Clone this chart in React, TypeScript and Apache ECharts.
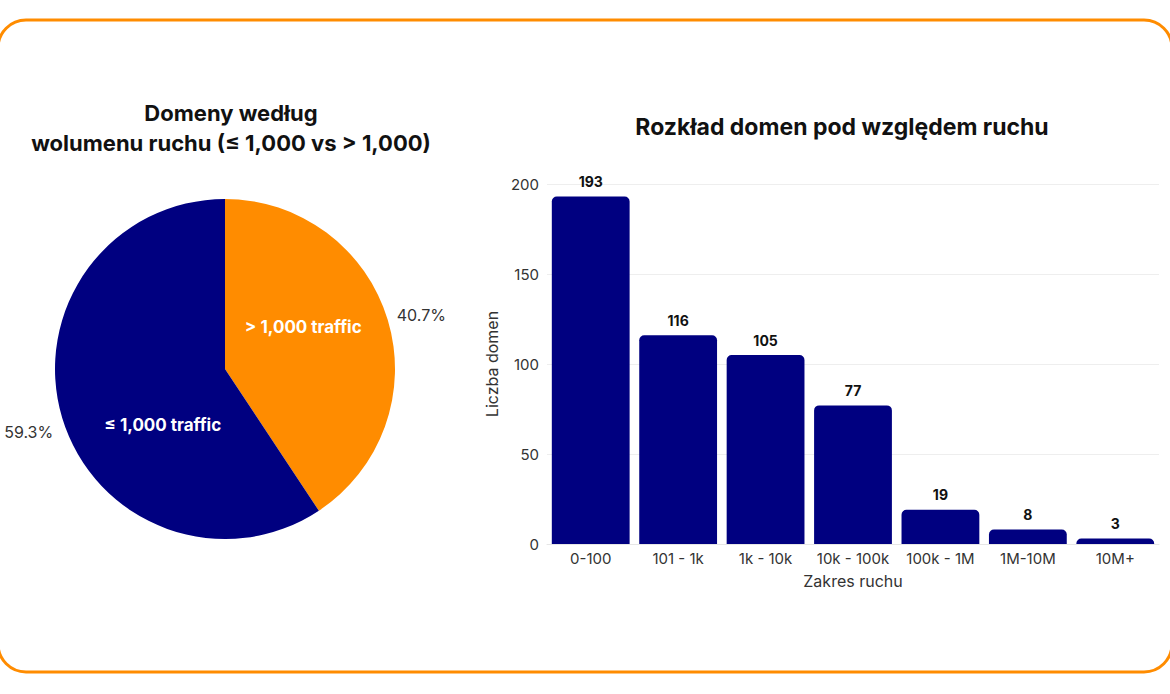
import { useEffect, useRef } from "react";
import * as echarts from "echarts";

// 左：依流量分組的網域佔比
const PIE_NAMES = ["> 1,000 traffic", "≤ 1,000 traffic"];
const PIE_VALUES = [212, 309];
const PIE_COLORS = ["#FF8C00", "#000080"];

// 右：流量區間分布
const RANGES = ["0-100", "101 - 1k", "1k - 10k", "10k - 100k", "100k - 1M", "1M-10M", "10M+"];
const DOMAIN_COUNTS = [193, 116, 105, 77, 19, 8, 3];

const NAVY = "#000080";
const ORANGE = "#FF8C00";
const FONT = "Inter, 'Noto Sans', sans-serif";

// 內部文字位置微調（plotly 風格）
const INSIDE_SHIFT = [
  { dx: -6, dy: -17 },
  { dx: 22, dy: 31 },
];
const OUTSIDE_SHIFT = [
  { dx: 4, dy: -5 },
  { dx: -4, dy: 14 },
];

function buildOption(): echarts.EChartsOption {
  const pieData = PIE_NAMES.map((name, i) => ({
    name,
    value: PIE_VALUES[i],
    itemStyle: { color: PIE_COLORS[i] },
  }));
  const total = PIE_VALUES.reduce((a, b) => a + b, 0);

  return {
    animation: false,
    backgroundColor: "#ffffff",
    textStyle: { fontFamily: FONT },
    title: [
      {
        text: "Domeny według\nwolumenu ruchu (≤ 1,000 vs > 1,000)",
        left: 226,
        top: 93,
        textAlign: "center",
        textStyle: { fontSize: 22, fontWeight: "bold", color: "#111", lineHeight: 30, fontFamily: FONT },
      },
      {
        text: "Rozkład domen pod względem ruchu",
        left: 837,
        top: 110,
        textAlign: "center",
        textStyle: { fontSize: 23, fontWeight: "bold", color: "#111", fontFamily: FONT },
      },
    ],
    graphic: [
      {
        type: "rect",
        silent: true,
        shape: { x: -2, y: 20, width: 1174, height: 652, r: 28 },
        style: { fill: "none", stroke: ORANGE, lineWidth: 3 },
      },
    ],
    grid: { left: 547, right: 11, top: 184, bottom: 150 },
    xAxis: {
      type: "category",
      data: RANGES,
      axisTick: { show: false },
      axisLine: { lineStyle: { color: "#e6e6e6" } },
      axisLabel: { color: "#333", fontSize: 15, margin: 7, interval: 0 },
      name: "Zakres ruchu",
      nameLocation: "middle",
      nameGap: 29,
      nameTextStyle: { color: "#333", fontSize: 16 },
    },
    yAxis: {
      type: "value",
      min: 0,
      max: 200,
      interval: 50,
      axisLine: { show: false },
      axisTick: { show: false },
      axisLabel: { color: "#333", fontSize: 15, margin: 8 },
      splitLine: { lineStyle: { color: "#eeeeee" } },
      name: "Liczba domen",
      nameLocation: "middle",
      nameGap: 45,
      nameTextStyle: { color: "#333", fontSize: 16 },
    },
    series: [
      {
        type: "pie",
        center: [225, 369],
        radius: 170,
        startAngle: 90,
        clockwise: true,
        avoidLabelOverlap: false,
        data: pieData,
        label: {
          show: true,
          position: "inside",
          formatter: "{b}",
          color: "#fff",
          fontSize: 17,
          fontWeight: "bold",
          fontFamily: FONT,
        },
        labelLine: { show: false },
        labelLayout: (p: any) => INSIDE_SHIFT[p.dataIndex],
        emphasis: { disabled: true },
      },
      {
        type: "pie",
        center: [225, 369],
        radius: 170,
        startAngle: 90,
        clockwise: true,
        silent: true,
        z: 1,
        avoidLabelOverlap: false,
        data: pieData.map((d) => ({ ...d, itemStyle: { color: "transparent" } })),
        label: {
          show: true,
          position: "outside",
          formatter: (p: any) => `${((p.value / total) * 100).toFixed(1)}%`,
          color: "#333",
          fontSize: 16,
          fontFamily: FONT,
        },
        labelLine: { show: false, length: 0, length2: 0 },
        labelLayout: (p: any) => OUTSIDE_SHIFT[p.dataIndex],
      },
      {
        type: "bar",
        data: DOMAIN_COUNTS,
        barCategoryGap: "11%",
        itemStyle: { color: NAVY, borderRadius: [5, 5, 0, 0] },
        label: {
          show: true,
          position: "top",
          distance: 8,
          color: "#111",
          fontSize: 14,
          fontWeight: "bold",
          fontFamily: FONT,
        },
        emphasis: { disabled: true },
      },
    ],
  };
}

export default function App() {
  const ref = useRef<HTMLDivElement | null>(null);

  useEffect(() => {
    const el = ref.current;
    if (!el) return;
    const chart = echarts.init(el, undefined, { renderer: "svg" });
    chart.setOption(buildOption());
    return () => {
      chart.dispose();
    };
  }, []);

  return (
    <div style={{ position: "fixed", left: 0, top: 0, width: 1170, height: 694, background: "#fff" }}>
      <div ref={ref} style={{ width: 1170, height: 694 }} />
    </div>
  );
}
